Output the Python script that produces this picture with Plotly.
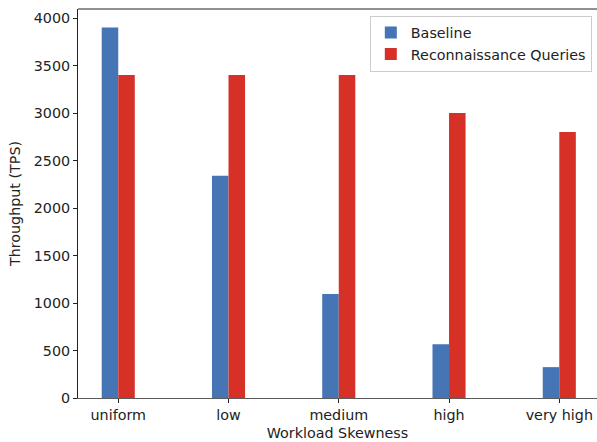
import plotly.graph_objects as go

categories = ["uniform", "low", "medium", "high", "very high"]
baseline = [3900, 2340, 1095, 567, 325]
recon = [3400, 3400, 3400, 3000, 2800]
yticks = [0, 500, 1000, 1500, 2000, 2500, 3000, 3500, 4000]

xpos = list(range(len(categories)))
bar_w = 0.15
font = dict(family="DejaVu Sans", size=14.3, color="#222222")

fig = go.Figure()
fig.add_trace(go.Bar(x=xpos, y=baseline, name="Baseline", width=bar_w, offset=-bar_w,
                     marker=dict(color="#4575b4", line=dict(width=0))))
fig.add_trace(go.Bar(x=xpos, y=recon, name="Reconnaissance Queries", width=bar_w, offset=0,
                     marker=dict(color="#d73027", line=dict(width=0))))

fig.update_layout(
    width=597, height=442,
    margin=dict(l=78, r=0, t=9, b=44),
    plot_bgcolor="white", paper_bgcolor="white",
    barmode="overlay",
    font=font,
    showlegend=True,
    legend=dict(x=0.99, y=0.983, xanchor="right", yanchor="top",
                bgcolor="rgba(255,255,255,0.8)", bordercolor="#cccccc", borderwidth=1,
                font=font, itemwidth=30, tracegroupgap=0),
    xaxis=dict(
        range=[-0.365, 4.342], tickmode="array", tickvals=xpos, ticktext=categories,
        showgrid=False, zeroline=False, showline=True, linecolor="#5a5a5a", linewidth=1.3,
        ticks="outside", ticklen=4, tickcolor="#222222", tickwidth=1,
        title=dict(text="Workload Skewness", standoff=5, font=font),
    ),
    yaxis=dict(
        range=[0, 4095], tickmode="array", tickvals=yticks,
        showgrid=False, zeroline=False, showline=True, linecolor="#222222", linewidth=1,
        ticks="outside", ticklen=4, tickcolor="#222222", tickwidth=1,
        title=dict(text="Throughput (TPS)", standoff=9, font=font),
    ),
    shapes=[dict(type="line", xref="paper", yref="paper", x0=0, x1=1, y0=1, y1=1,
                 line=dict(color="#222222", width=1))],
)

fig.write_html("out.html")
